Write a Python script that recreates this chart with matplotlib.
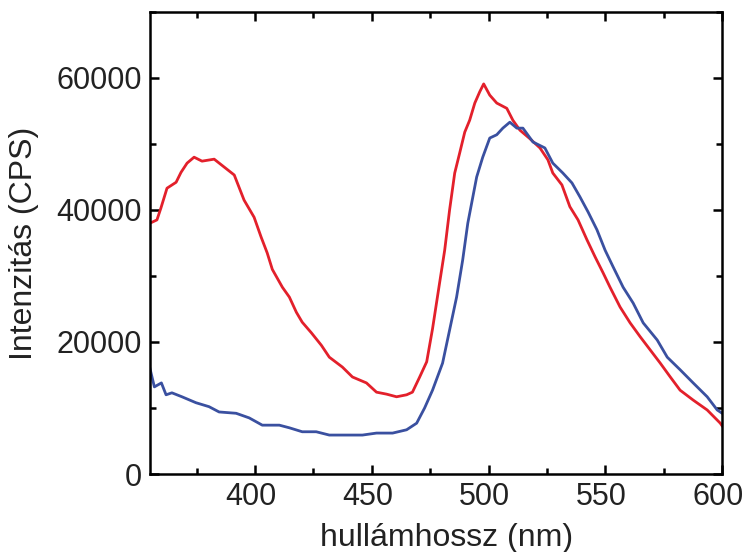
import numpy as np
import matplotlib
matplotlib.use("Agg")
import matplotlib.pyplot as plt
import matplotlib.transforms as mtransforms
from matplotlib.ticker import MultipleLocator

plt.rcParams['font.family'] = ['Liberation Sans', 'DejaVu Sans']

# vörös görbe (hullámhossz nm, intenzitás CPS)
piros_x = [355, 358.0, 359.7, 362.3, 366.2, 368.3, 370.9, 373.9, 377.3, 382.5,
           386.8, 391.1, 395.3, 399.6, 402.6, 405.2, 407.4, 411.7, 414.7, 417.7,
           420.2, 424.1, 428.4, 431.8, 437.4, 441.7, 447.7, 452.0, 456.3, 460.6,
           464.9, 467.4, 470.5, 473.5, 476.0, 479.0, 481.2, 483.3, 485.5, 487.6,
           489.8, 491.9, 494.1, 496.2, 497.9, 500.5, 503.5, 507.8, 510.4, 513.4,
           517.7, 522.0, 525.4, 527.5, 531.4, 534.8, 538.3, 542.1, 545.6, 549.0,
           552.0, 556.3, 560.6, 564.9, 569.2, 573.5, 577.8, 582.0, 587.6, 593.6,
           599.2, 600]
piros_y = [38000, 38500, 40300, 43300, 44200, 45700, 47100, 48000, 47400, 47700,
           46500, 45300, 41500, 38900, 35900, 33500, 31000, 28300, 26800, 24500,
           23000, 21400, 19500, 17700, 16200, 14700, 13800, 12400, 12100, 11700,
           12000, 12400, 14700, 17000, 22000, 28900, 33900, 40000, 45600, 48600,
           51800, 53600, 56200, 57900, 59100, 57400, 56200, 55400, 53600, 52100,
           50800, 49400, 47600, 45600, 43800, 40500, 38500, 35500, 32900, 30500,
           28300, 25300, 22900, 20800, 18800, 16800, 14700, 12700, 11200, 9700,
           7700, 7300]

# kék görbe
kek_x = [355, 356.9, 359.9, 361.9, 364.4, 368.7, 374.7, 380.3, 384.6, 391.9,
         397.5, 403.1, 410.4, 414.7, 420.2, 426.2, 431.8, 439.1, 446.0, 452.0,
         458.9, 464.9, 469.2, 472.6, 476.0, 480.3, 483.3, 486.3, 488.9, 491.1,
         494.9, 497.5, 500.5, 503.5, 506.1, 509.1, 512.1, 514.7, 519.0, 524.1,
         527.5, 531.8, 535.7, 539.1, 542.6, 546.4, 549.9, 553.3, 557.6, 561.9,
         566.2, 572.2, 576.5, 582.0, 587.6, 593.6, 597.9, 600]
kek_y = [16000, 13200, 13800, 12000, 12300, 11700, 10800, 10200, 9400, 9200,
         8500, 7400, 7400, 7000, 6400, 6400, 5900, 5900, 5900, 6200,
         6200, 6700, 7700, 10000, 12700, 16800, 21800, 26800, 32400, 38000,
         45000, 48000, 50900, 51400, 52400, 53300, 52400, 52400, 50300, 49400,
         47100, 45600, 44100, 42000, 39700, 37000, 33900, 31400, 28300, 25900,
         22900, 20300, 17700, 15800, 13800, 11700, 9700, 9200]

fig = plt.figure(figsize=(7.46, 5.52), dpi=100)
ax = fig.add_axes([0.201, 0.1413, 0.767, 0.837])

ax.plot(piros_x, piros_y, color='#e3202b', lw=2.0)
ax.plot(kek_x, kek_y, color='#3a50a0', lw=2.0)

ax.set_xlim(355, 600)
ax.set_ylim(0, 70000)
ax.xaxis.set_major_locator(MultipleLocator(50))
ax.xaxis.set_minor_locator(MultipleLocator(25))
ax.yaxis.set_major_locator(MultipleLocator(20000))
ax.yaxis.set_minor_locator(MultipleLocator(10000))
ax.tick_params(which='both', direction='in', top=True, right=True, width=1.8,
               labelsize=22, pad=6, labelcolor='#222222')
ax.tick_params(which='major', length=6.5)
ax.tick_params(which='minor', length=4.5)
for s in ax.spines.values():
    s.set_linewidth(1.8)

# x tick labels sit a bit left of their ticks in the original
eltolas = mtransforms.ScaledTranslation(-4 / 100, 0, fig.dpi_scale_trans)
for lbl in ax.get_xticklabels():
    lbl.set_transform(lbl.get_transform() + eltolas)

ax.set_xlabel('hullámhossz (nm)', fontsize=23, color='#222222')
ax.xaxis.set_label_coords(0.519, -0.105)
ax.set_ylabel('Intenzitás (CPS)', fontsize=23, labelpad=12, color='#222222')

fig.savefig('out.png', dpi=100)
